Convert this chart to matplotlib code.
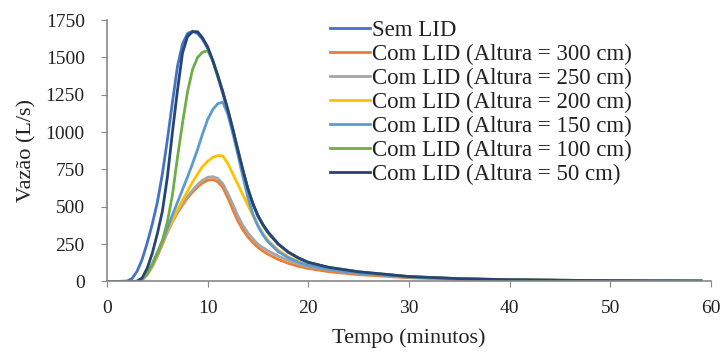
import matplotlib
matplotlib.use("Agg")
import matplotlib.pyplot as plt

# tempo (minutos)
tempo = [0, 1, 2, 2.5, 3, 3.5, 4, 4.5, 5, 5.5, 6, 6.5, 7, 7.5, 8, 8.5, 9, 9.5,
         10, 10.5, 11, 11.5, 12, 12.5, 13, 13.5, 14, 14.5, 15, 15.5, 16,
         17, 18, 19, 20, 22, 25, 30, 35, 40, 45, 50, 55, 59]

# vazao (L/s)
sem_lid = [0, 0, 3, 20, 70, 150, 260, 385, 530, 720, 950, 1200, 1440, 1590, 1660, 1675, 1660, 1620,
           1560, 1480, 1370, 1260, 1140, 1010, 870, 740, 615, 515, 435, 375, 325,
           250, 195, 158, 128, 92, 62, 32, 18, 11, 8, 6, 4, 3]
alt_300 = [0, 0, 0, 0, 1, 13, 46, 100, 170, 250, 330, 400, 460, 512, 560, 598, 633, 660,
           678, 682, 668, 630, 560, 480, 405, 345, 298, 260, 228, 203, 182,
           148, 122, 102, 87, 66, 46, 25, 14, 9, 6, 5, 4, 3]
alt_250 = [0, 0, 0, 0, 1, 14, 48, 105, 175, 255, 335, 405, 468, 522, 570, 610, 648, 678,
           697, 702, 690, 655, 590, 515, 440, 375, 325, 285, 250, 225, 205,
           170, 142, 118, 100, 78, 55, 30, 17, 11, 8, 6, 4, 3]
alt_200 = [0, 0, 0, 0, 1, 14, 49, 107, 178, 258, 338, 410, 480, 545, 605, 665, 720, 770,
           805, 830, 843, 840, 790, 720, 650, 580, 510, 440, 375, 320, 275,
           210, 165, 135, 112, 85, 58, 31, 17, 11, 8, 6, 4, 3]
alt_150 = [0, 0, 0, 0, 1, 15, 52, 115, 185, 265, 355, 445, 530, 615, 700, 790, 885, 990,
           1085, 1150, 1190, 1200, 1120, 990, 850, 700, 560, 450, 370, 310, 265,
           200, 160, 130, 108, 82, 55, 30, 17, 11, 8, 6, 4, 3]
alt_100 = [0, 0, 0, 0, 1, 15, 55, 120, 195, 275, 400, 580, 830, 1060, 1270, 1420, 1500, 1535,
           1545, 1480, 1380, 1270, 1150, 1020, 880, 745, 620, 520, 440, 380, 330,
           252, 197, 158, 128, 95, 65, 33, 19, 12, 8, 6, 4, 3]
alt_50 = [0, 0, 0, 0, 2, 25, 90, 190, 320, 470, 700, 1000, 1280, 1530, 1640, 1672, 1672, 1630,
          1570, 1480, 1380, 1270, 1150, 1020, 880, 745, 620, 520, 440, 380, 330,
          252, 197, 158, 128, 95, 65, 33, 19, 12, 8, 6, 4, 3]

series = [sem_lid, alt_300, alt_250, alt_200, alt_150, alt_100, alt_50]
labels = ["Sem LID",
          "Com LID (Altura = 300 cm)",
          "Com LID (Altura = 250 cm)",
          "Com LID (Altura = 200 cm)",
          "Com LID (Altura = 150 cm)",
          "Com LID (Altura = 100 cm)",
          "Com LID (Altura = 50 cm)"]
colors = ["#4472C4", "#ED7D31", "#A5A5A5", "#FFC000", "#5B9BD5", "#70AD47", "#264478"]

plt.rcParams["font.family"] = "Liberation Serif"

fig = plt.figure(figsize=(7.25, 3.58), dpi=100)
ax = fig.add_axes([0.1476, 0.2137, 0.8331, 0.7303])

for vals, lab, col in zip(series, labels, colors):
    ax.plot(tempo, vals, color=col, linewidth=2, label=lab)

ax.set_xlim(0, 60)
ax.set_ylim(0, 1750)
ax.set_xticks(range(0, 61, 10))
ax.set_yticks(range(0, 1751, 250))
ax.tick_params(labelsize=14, direction="out", length=4, color="#888888", labelcolor="#222222")
ax.tick_params(axis="y", pad=12)
ax.tick_params(axis="x", pad=9)

for s in ["top", "right"]:
    ax.spines[s].set_visible(False)
for s in ["left", "bottom"]:
    ax.spines[s].set_color("#888888")
    ax.spines[s].set_linewidth(1.2)

ax.set_xlabel("Tempo (minutos)", fontsize=16, color="#222222")
ax.set_ylabel("Vazão (L/s)", fontsize=16, color="#222222")
ax.xaxis.set_label_coords(0.5, -0.178)
ax.yaxis.set_label_coords(-0.116, 0.5)

leg = fig.legend(loc="upper left", bbox_to_anchor=(0.455, 0.943), frameon=False,
                 fontsize=16.5, labelspacing=0.12, handlelength=1.75, handletextpad=0.09,
                 borderpad=0, borderaxespad=0, labelcolor="#222222")

plt.savefig("out.png", dpi=100)
